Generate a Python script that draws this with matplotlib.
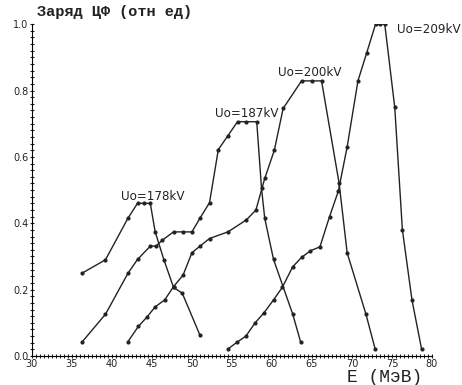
import matplotlib
matplotlib.use("Agg")
import matplotlib.pyplot as plt
from matplotlib.ticker import MultipleLocator

# Uo = 178 kV
e178 = [36.3, 39.2, 42.0, 43.2, 44.0, 44.8, 45.4, 46.5, 47.7, 48.8, 51.0]
q178 = [0.25, 0.29, 0.415, 0.46, 0.46, 0.46, 0.375, 0.29, 0.207, 0.189, 0.063]

# Uo = 187 kV
e187 = [36.3, 39.2, 42.0, 43.2, 44.8, 45.5, 46.3, 47.7, 48.9, 50.0, 51.0, 52.2,
        53.3, 54.5, 55.7, 56.8, 58.1, 58.7, 59.1, 60.2, 62.6, 63.6]
q187 = [0.043, 0.126, 0.249, 0.291, 0.331, 0.331, 0.349, 0.374, 0.374, 0.374, 0.415, 0.462,
        0.622, 0.664, 0.706, 0.706, 0.706, 0.505, 0.415, 0.291, 0.126, 0.041]

# Uo = 200 kV
e200 = [42.0, 43.3, 44.4, 45.4, 46.6, 47.7, 48.9, 50.0, 51.0, 52.2, 54.5, 56.8,
        58.0, 59.1, 60.3, 61.4, 63.7, 65.0, 66.2, 68.4, 69.4, 71.75, 72.9]
q200 = [0.043, 0.089, 0.118, 0.148, 0.169, 0.209, 0.244, 0.311, 0.331, 0.354, 0.374, 0.41,
        0.44, 0.535, 0.62, 0.746, 0.829, 0.829, 0.829, 0.52, 0.311, 0.126, 0.021]

# Uo = 209 kV
e209 = [54.5, 55.6, 56.75, 57.9, 59.0, 60.2, 61.3, 62.6, 63.7, 64.8, 66.0, 67.2,
        68.3, 69.4, 70.75, 71.85, 72.95, 73.5, 74.1, 75.35, 76.3, 77.5, 78.7]
q209 = [0.021, 0.041, 0.06, 0.1, 0.13, 0.169, 0.207, 0.269, 0.297, 0.317, 0.329, 0.42,
        0.497, 0.63, 0.829, 0.914, 1.0, 1.0, 1.0, 0.749, 0.381, 0.169, 0.021]

labels = ["Uo=178kV", "Uo=187kV", "Uo=200kV", "Uo=209kV"]
label_pos = [(41.1, 0.48), (52.9, 0.73), (60.75, 0.855), (75.6, 0.985)]

fig = plt.figure(figsize=(4.62, 3.85), dpi=100)
ax = fig.add_axes([0.069, 0.0753, 0.866, 0.862])

for e, q in [(e178, q178), (e187, q187), (e200, q200), (e209, q209)]:
    ax.plot(e, q, color="#222222", lw=1.0, marker="o", ms=2.0)

for txt, (x, y) in zip(labels, label_pos):
    ax.text(x, y, txt, fontsize=8.6, ha="left", va="center", color="#222222",
            clip_on=False)

ax.set_xlim(30, 80)
ax.set_ylim(0, 1.0)
ax.xaxis.set_major_locator(MultipleLocator(5))
ax.xaxis.set_minor_locator(MultipleLocator(0.5))
ax.yaxis.set_major_locator(MultipleLocator(0.2))
ax.yaxis.set_minor_locator(MultipleLocator(0.02))
ax.yaxis.set_major_formatter(plt.FormatStrFormatter("%.1f"))
ax.tick_params(which="both", direction="inout", length=3, width=0.8, color="#222222")
ax.tick_params(labelsize=7, pad=1, colors="#222222")
ax.spines["top"].set_visible(False)
ax.spines["right"].set_visible(False)

fig.text(37 / 462, 1 - 12 / 385, "Заряд ЦФ (отн ед)", family="Liberation Mono",
         fontsize=11, weight="bold", va="center", ha="left", color="#222222")
fig.text(347 / 462, 1 - 377 / 385, "E (МэВ)", family="Liberation Mono",
         fontsize=13, va="center", ha="left", color="#222222")

fig.savefig("out.png", dpi=100)
